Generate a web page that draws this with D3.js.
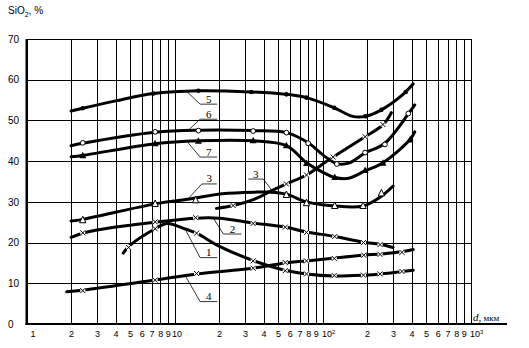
<!DOCTYPE html>
<html>
<head>
<meta charset="utf-8">
<script src="https://cdn.jsdelivr.net/npm/d3@7"></script>
<style>
body { margin: 0; background: #fff; }
svg { display: block; }
.tick text { font-family: "Liberation Sans", Arial, sans-serif; font-size: 10px; fill: #000; }
.xax .tick text { font-size: 9px; }
.lbl { font-family: "Liberation Serif", "Times New Roman", serif; font-size: 11px; fill: #000; }
</style>
</head>
<body>
<svg width="529" height="348"></svg>
<script>
// axis ticks
var xTicks = [1,2,3,4,5,6,7,8,9,10,20,30,40,50,60,70,80,90,100,200,300,400,500,600,700,800,900,1000];
var xTickText = ["1","2","3","4","5","6","7","8","9","10","2","3","4","5","6","7","8","9","10\u00b2","2","3","4","5","6","7","8","9","10\u00b3"];
var yTicks = [0,10,20,30,40,50,60,70];

// curves: [d (мкм), SiO2 %]
var curve5 = [[2,52.3],[2.4,53.0],[4,54.8],[7.2,56.6],[14.5,57.3],[33,57.0],[57,56.4],[78,55.6],[120,53.1],[160,51.0],[195,51.0],[250,52.6],[350,56.4],[410,59.0]];
var marks5 = [[2.4,53.0],[7.2,56.6],[14.5,57.3],[33,57.0],[57,56.4],[78,55.6],[120,53.1],[195,51.0],[250,52.6],[365,57.0]];

var curve6 = [[2,43.8],[2.4,44.4],[7.4,47.1],[14.5,47.6],[34,47.5],[57,47.0],[80,44.5],[100,41.6],[125,39.4],[150,39.5],[194,42.0],[264,44.4],[380,51.6],[420,53.8]];
var marks6 = [[2.4,44.5],[7.4,47.2],[14.5,47.5],[34,47.4],[57,47.0],[80,44.4],[125,39.3],[194,42.1],[264,44.1],[380,51.7]];

var curve7 = [[2,41.1],[2.4,41.4],[7.4,44.3],[14.5,45.0],[34,45.0],[57,43.8],[78,39.6],[100,37.3],[121,36.0],[150,35.8],[194,37.6],[256,39.6],[390,45.3],[420,47.2]];
var marks7 = [[2.4,41.3],[7.4,44.3],[14.5,44.9],[34,45.0],[57,43.8],[78,39.4],[121,36.0],[194,37.7],[256,39.5],[390,45.2]];

var curve3a = [[2,25.3],[2.4,25.7],[7.4,29.5],[12.7,30.7],[21,32.0],[36,32.4],[44,32.4],[57,31.9],[78,30.0],[121,29.0],[188,29.0],[250,31.4],[300,33.9]];
var marks3a = [[2.4,25.6],[7.4,29.6],[13.9,30.5],[57,31.8],[78,29.8],[121,29.1],[188,29.1],[250,32.2]];

var curve3b = [[19.2,28.4],[24.9,29.1],[36,30.9],[44,32.5],[57,34.4],[78,36.6],[106,39.9],[118,41.0],[194,46.0],[256,48.9],[292,51.9]];
var marks3b = [[24.9,29.1],[57,34.4],[78,36.6],[118,41.0],[194,46.0],[256,49.0]];

var curve2 = [[2,21.3],[2.4,22.3],[4,23.8],[7.4,25.0],[13.9,26.0],[20,26.0],[34,24.8],[56,23.8],[78,22.6],[121,21.5],[189,20.1],[245,19.6],[300,18.8]];
var marks2 = [[2.4,22.4],[7.4,25.1],[13.9,26.1],[34,24.7],[56,23.8],[78,22.5],[121,21.5],[189,20.0],[245,19.5]];

var curve1 = [[4.5,17.4],[5,19.3],[7.4,23.4],[8.9,24.7],[12.1,23.2],[14.1,22.3],[20.3,19.0],[34,15.6],[56,13.2],[78,12.3],[120,11.8],[190,12.0],[250,12.3],[350,12.9],[410,13.2]];
var marks1 = [[4.9,18.8],[7.4,23.4],[14.1,22.3],[34,15.5],[56,13.1],[78,12.3],[120,11.9],[189,12.0],[245,12.3],[344,12.9]];

var curve4 = [[1.87,7.9],[2.4,8.3],[7.4,10.8],[14.1,12.3],[34,13.7],[56,15.0],[78,15.5],[120,16.2],[190,16.9],[250,17.2],[350,17.8],[410,18.3]];
var marks4 = [[2.4,8.2],[7.4,10.8],[14.1,12.4],[34,13.7],[56,15.1],[78,15.5],[120,16.1],[190,16.9],[245,17.1],[344,17.6]];

// curve labels: leader from curve point (d0,v0) to shelf (d1,v1)
var labels = [
  {t:"5", d0:12.1, v0:57.1, d1:14.9, v1:54.0, w:17},
  {t:"6", d0:12.4, v0:47.6, d1:14.9, v1:50.3, w:17},
  {t:"7", d0:12.1, v0:44.9, d1:14.9, v1:41.0, w:17},
  {t:"3", d0:12.4, v0:30.8, d1:15.3, v1:34.4, w:15},
  {t:"3", d0:46.5, v0:32.4, d1:39.8, v1:35.6, w:-15},
  {t:"2", d0:18.3, v0:26.0, d1:21.4, v1:22.1, w:18},
  {t:"1", d0:11.8, v0:23.3, d1:14.9, v1:16.3, w:17},
  {t:"4", d0:11.8, v0:11.9, d1:14.9, v1:5.5, w:17}
];

var svg = d3.select("svg"),
    mLeft = 26.5, mRight = 470.5, mTop = 39, mBottom = 324;

var x = d3.scaleLog().domain([1,1000]).range([mLeft,mRight]);
var y = d3.scaleLinear().domain([0,70]).range([mBottom,mTop]);

// grid
svg.append("g")
    .attr("transform","translate(0,"+mBottom+")")
    .call(d3.axisBottom(x).tickValues(xTicks).tickSize(-(mBottom-mTop)).tickFormat(""))
    .call(function(g){ g.select(".domain").remove(); })
    .selectAll("line").attr("stroke","#000").attr("stroke-width",1).attr("shape-rendering","crispEdges");

svg.append("g")
    .attr("transform","translate("+mLeft+",0)")
    .call(d3.axisLeft(y).tickValues(yTicks).tickSize(-(mRight-mLeft)).tickFormat(""))
    .call(function(g){ g.select(".domain").remove(); })
    .selectAll("line").attr("stroke","#000").attr("stroke-width",1).attr("shape-rendering","crispEdges");

// axes lines
svg.append("line").attr("x1",mLeft).attr("x2",mLeft).attr("y1",mTop).attr("y2",mBottom+1)
    .attr("stroke","#000").attr("stroke-width",2);
svg.append("line").attr("x1",mLeft-1).attr("x2",507).attr("y1",mBottom).attr("y2",mBottom)
    .attr("stroke","#000").attr("stroke-width",2);

// tick labels
var xa = svg.append("g")
    .attr("class","xax")
    .attr("transform","translate(0,"+mBottom+")")
    .call(d3.axisBottom(x).tickValues(xTicks).tickSize(0).tickPadding(7)
      .tickFormat(function(d,i){ return xTickText[i]; }));
xa.select(".domain").remove();
xa.selectAll(".tick").filter(function(d){ return d===1; }).select("text").attr("dx",6);
xa.selectAll(".tick").filter(function(d){ return d===10; }).select("text").attr("dx",2);
// powers of ten with a real superscript
xa.selectAll(".tick").filter(function(d){ return d===100 || d===1000; }).select("text")
    .attr("text-anchor","start").attr("x",-1)
    .each(function(d){
      var t = d3.select(this).text("");
      t.append("tspan").text("10");
      t.append("tspan").attr("dy",-3).style("font-size","6px").text(d===100 ? "2" : "3");
    });

var ya = svg.append("g")
    .attr("transform","translate("+mLeft+",0)")
    .call(d3.axisLeft(y).tickValues(yTicks).tickSize(0));
ya.select(".domain").remove();
ya.selectAll("text").attr("text-anchor","start").attr("x",8-mLeft);

// titles
var title = svg.append("text").attr("x",8).attr("y",14)
    .style("font-family","Liberation Sans, Arial, sans-serif").style("font-size","10px");
title.append("tspan").text("SiO");
title.append("tspan").attr("dy",3).style("font-size","7px").text("2");
title.append("tspan").attr("dy",-3).text(", %");

var xl = svg.append("text").attr("x",473).attr("y",321)
    .style("font-family","Liberation Serif, serif").style("font-size","10px");
xl.append("tspan").style("font-style","italic").style("font-size","11px").text("d,");
xl.append("tspan").style("font-size","9px").text(" мкм");

// curves
var line = d3.line()
    .x(function(d){ return x(d[0]); })
    .y(function(d){ return y(d[1]); })
    .curve(d3.curveCatmullRom.alpha(0.5));

var series = [
  {pts:curve5, m:marks5, type:"dot"},
  {pts:curve6, m:marks6, type:"circle"},
  {pts:curve7, m:marks7, type:"tri"},
  {pts:curve3a, m:marks3a, type:"otri"},
  {pts:curve3b, m:marks3b, type:"x"},
  {pts:curve2, m:marks2, type:"x"},
  {pts:curve1, m:marks1, type:"x"},
  {pts:curve4, m:marks4, type:"x"}
];

series.forEach(function(s){
  svg.append("path")
      .datum(s.pts)
      .attr("d",line)
      .attr("fill","none")
      .attr("stroke","#000")
      .attr("stroke-width",3)
      .attr("stroke-linecap","round");
});

series.forEach(function(s){
  var g = svg.append("g").selectAll("g")
      .data(s.m)
      .enter().append("g")
      .attr("transform",function(d){ return "translate("+x(d[0])+","+y(d[1])+")"; });
  if (s.type=="dot") {
    g.append("circle").attr("r",2.3).attr("fill","#000");
  } else if (s.type=="circle") {
    g.append("circle").attr("r",2.4).attr("fill","#fff").attr("stroke","#000").attr("stroke-width",1);
  } else if (s.type=="tri") {
    g.append("path").attr("d","M0,-4L3.5,2.5L-3.5,2.5Z").attr("fill","#000");
  } else if (s.type=="otri") {
    g.append("path").attr("d","M0,-3.5L3.2,3L-3.2,3Z").attr("fill","#fff").attr("stroke","#000").attr("stroke-width",1);
  } else {
    g.append("rect").attr("x",-2.5).attr("y",-2.5).attr("width",5).attr("height",5).attr("fill","#fff");
    g.append("path").attr("d","M-2.5,-2.5L2.5,2.5M-2.5,2.5L2.5,-2.5").attr("stroke","#000").attr("stroke-width",1);
  }
});

// labels with leaders
labels.forEach(function(l){
  var x0 = x(l.d0), y0 = y(l.v0), x1 = x(l.d1), y1 = y(l.v1);
  svg.append("line").attr("x1",x0).attr("y1",y0).attr("x2",x1).attr("y2",y1)
      .attr("stroke","#000").attr("stroke-width",0.8);
  svg.append("line").attr("x1",x1).attr("y1",y1).attr("x2",x1+l.w).attr("y2",y1)
      .attr("stroke","#000").attr("stroke-width",0.8);
  svg.append("text").attr("class","lbl")
      .attr("x",x1+l.w/2).attr("y",y1-1.5)
      .attr("text-anchor","middle")
      .text(l.t);
});
</script>
</body>
</html>
